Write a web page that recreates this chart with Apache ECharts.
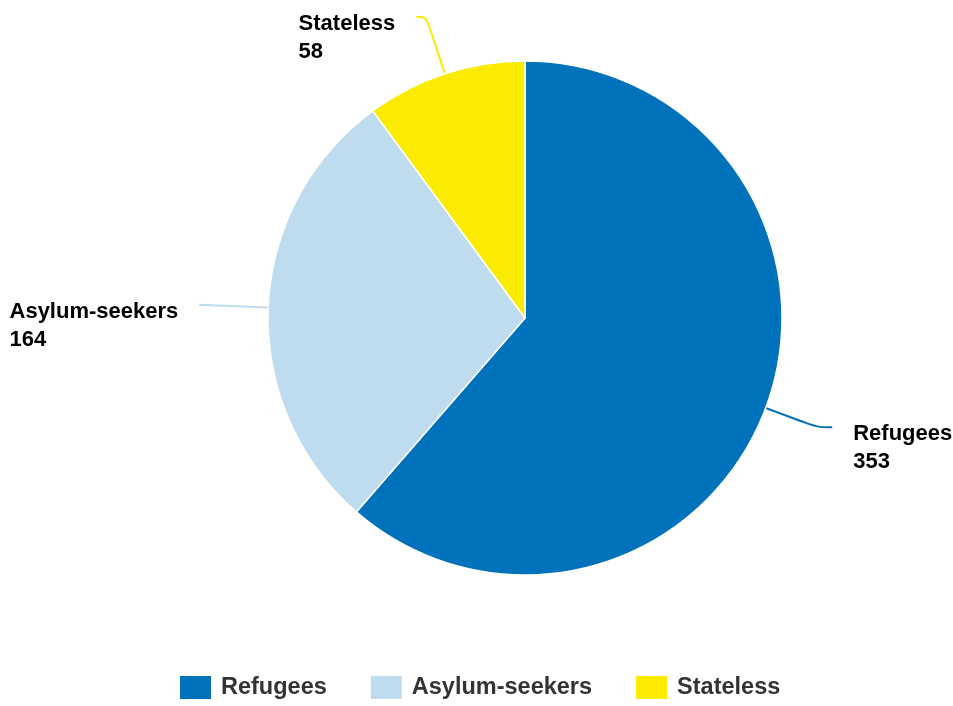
<!DOCTYPE html>
<html>
<head>
<meta charset="utf-8">
<script src="https://cdn.jsdelivr.net/npm/echarts@6/dist/echarts.min.js"></script>
<style>
html,body{margin:0;padding:0;background:#fff;}
#chart{width:953px;height:706px;}
</style>
</head>
<body>
<div id="chart"></div>
<script>
const categories = ['Refugees', 'Asylum-seekers', 'Stateless'];
const values = [353, 164, 58];
const colors = ['#0072BC', '#BFDCEE', '#FAEB00'];
const lineLengths = [[55, 15], [69, 0], [60, 10]];

const chart = echarts.init(document.getElementById('chart'), null, {renderer: 'canvas'});
const data = categories.map((name, i) => ({
  name: name,
  value: values[i],
  itemStyle: {color: colors[i]},
  labelLine: {length: lineLengths[i][0], length2: lineLengths[i][1], lineStyle: {color: colors[i]}}
}));
data[0].label = {width: 130};

chart.setOption({
  animation: false,
  legend: {
    bottom: 0,
    left: 173,
    itemWidth: 33,
    itemHeight: 25,
    itemGap: 42,
    icon: 'rect',
    selectedMode: false,
    textStyle: {fontFamily: 'Liberation Sans, Arial, sans-serif', fontSize: 23.5, fontWeight: 'bold', color: '#333', padding: [0, 0, 0, 4]},
    data: categories
  },
  series: [{
    type: 'pie',
    center: [525, 318],
    radius: [0, 257],
    startAngle: 90,
    clockwise: true,
    avoidLabelOverlap: false,
    itemStyle: {borderColor: '#fff', borderWidth: 1.5},
    label: {
      show: true,
      formatter: '{b}\n{c}',
      fontFamily: 'Liberation Sans, Arial, sans-serif',
      fontSize: 22,
      fontWeight: 'bold',
      color: '#000',
      lineHeight: 28,
      distanceToLabelLine: 21
    },
    labelLayout: function (params) {
      const res = {verticalAlign: 'top', dy: -7};
      if (params.align === 'right') {
        res.align = 'left';
        res.dx = -params.labelRect.width;
      }
      return res;
    },
    labelLine: {show: true, smooth: 0.35, lineStyle: {width: 2}},
    emphasis: {disabled: true},
    data: data
  }]
});
</script>
</body>
</html>
